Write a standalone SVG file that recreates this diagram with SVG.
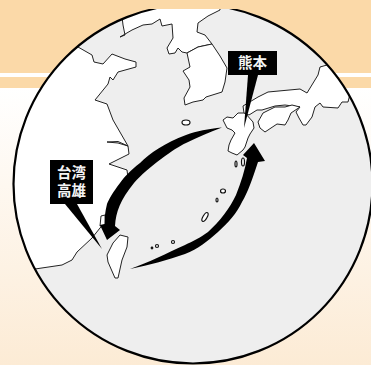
<svg xmlns="http://www.w3.org/2000/svg" width="371" height="365" viewBox="0 0 371 365">
<style>
.land{fill:#fff;stroke:#222;stroke-width:1;stroke-linejoin:round}
.isl{fill:#fff;stroke:#111;stroke-width:1.200}
.blk{fill:#000}
.lbl{fill:#f4f4f4;font:bold 14.500px "Noto Sans CJK JP","Noto Sans CJK SC",sans-serif;text-anchor:middle}
</style>
<defs>
<linearGradient id="bg" x1="0" y1="0" x2="0" y2="1"><stop offset="0" stop-color="#fff"/><stop offset="1" stop-color="#fcebd5"/></linearGradient>
<clipPath id="disc"><circle cx="193" cy="184" r="179.500"/></clipPath>
</defs>
<rect y="88" width="371" height="277" fill="url(#bg)"/>
<rect width="371" height="88" fill="#fbd9a8"/>
<rect y="73" width="371" height="4" fill="#fff"/>
<circle cx="193" cy="184" r="179.500" fill="#eee"/>
<g clip-path="url(#disc)">
<path class="land" d="M78 47L92 55L94 62L103 64L112 54L125 59L136 62L136 67L118 72L113 80L110 77L108 84L95 100L107 104L113 120L128 146L118 141.500L107 142L118 143L128 146L129 154L109 164L127 170L128 178L120 195L105 222L100 228L92 238L77 252L72 260L62 265L35 269L0 280L0 40Z"/>
<path class="land" d="M123 25L125 35L120 37L132 30L143 25L152 24L160 19L162 26L172 24L173 38L167 48L169 54L175 53L178 48L182 52L187 53L198 47L212 44L205 35L197 32L198 23L208 16L220 10L220 0L120 0Z"/>
<path class="land" d="M187 53L190 67L183 71L189 80L190 87L184 98L185 105L193 102L203 100L206 97L222 92L225 82L227 68L220 56L212 44L198 47Z"/>
<path class="land" d="M223 120L227 117L233 118L238 113L245 113L253 122L254 128L250 134L248 138L245 147L243 150L237 155L232 153L228 151L229 145L231 140L235 133L232 130L227 128Z"/>
<path class="land" d="M243 106L244 113L249 115L257 110L262 110L275 106L285 105L300 107L296 112L299 118L303 125L306 125L312 117L315 107L320 103L323 107L338 108L342 102L348 102L350 94L372 90L372 40L333 71L327 65L320 67L318 75L307 93L300 89L268 92L258 97Z"/>
<path class="land" d="M258 122L263 113L275 107L285 107L292 105L300 107L291 113L288 120L285 125L277 124L265 132L260 128Z"/>
<path class="land" d="M120 235L128 237L127 247L122 260L118 278L115 278L108 262L107 255L113 243Z"/>
<path class="land" d="M101 216L105 215L106 225L100 226Z"/>
<ellipse class="isl" cx="186" cy="122.500" rx="4" ry="2.500"/>
<ellipse class="isl" cx="236" cy="164" rx="1" ry="3"/>
<ellipse class="isl" cx="243" cy="162" rx="1.500" ry="4"/>
<ellipse class="isl" cx="223" cy="191" rx="2.500" ry="2"/>
<ellipse class="isl" cx="217" cy="200" rx="1" ry="2"/>
<ellipse class="isl" cx="205" cy="217" rx="2" ry="5" transform="rotate(30 205 217)"/>
<circle class="isl" cx="157" cy="246" r="1.500"/>
<circle class="isl" cx="152" cy="248" r="0.800"/>
<circle class="isl" cx="173" cy="242" r="1.500"/>
</g>
<circle cx="193" cy="184" r="179.500" fill="none" stroke="#000" stroke-width="2.200"/>
<rect width="371" height="9" fill="#fbd9a8"/>
<g id="connectors">
<path class="blk" d="M222 127.500C208 129 197 131 186 135C165 143 150 153 140 163C130 171 125 176 120 183C113 192 109 199 107 204C105 212 104.500 218 104.500 224L100 225L107 240L120 230L115 226C116 212 120 200 134 183C148 167 175 148 186 143C198 137 210 132 222 127.500Z"/>
<path class="blk" d="M130 269C150 265 168 260 185 254C198 249 208 241 218 232C228 223 237 213 242 202C248 192 252 180 258 162L265 161L254 143L243 155L247 158C245 170 241 182 236 195C230 208 220 221 208 232C200 238 193 241 185 245C165 254 150 262 130 269Z"/>
</g>
<g id="node-kumamoto">
<rect class="blk" x="228" y="51" width="49" height="24"/>
<path class="blk" d="M248 75L258 75L244 128Z"/>
<text class="lbl" x="252.500" y="68">熊本</text>
</g>
<g id="node-kaohsiung">
<rect class="blk" x="50" y="160" width="43" height="44"/>
<path class="blk" d="M65 204L77 204L102 249Z"/>
<text class="lbl"><tspan x="71.500" y="178">台湾</tspan><tspan x="71.500" y="196">高雄</tspan></text>
</g>
</svg>
